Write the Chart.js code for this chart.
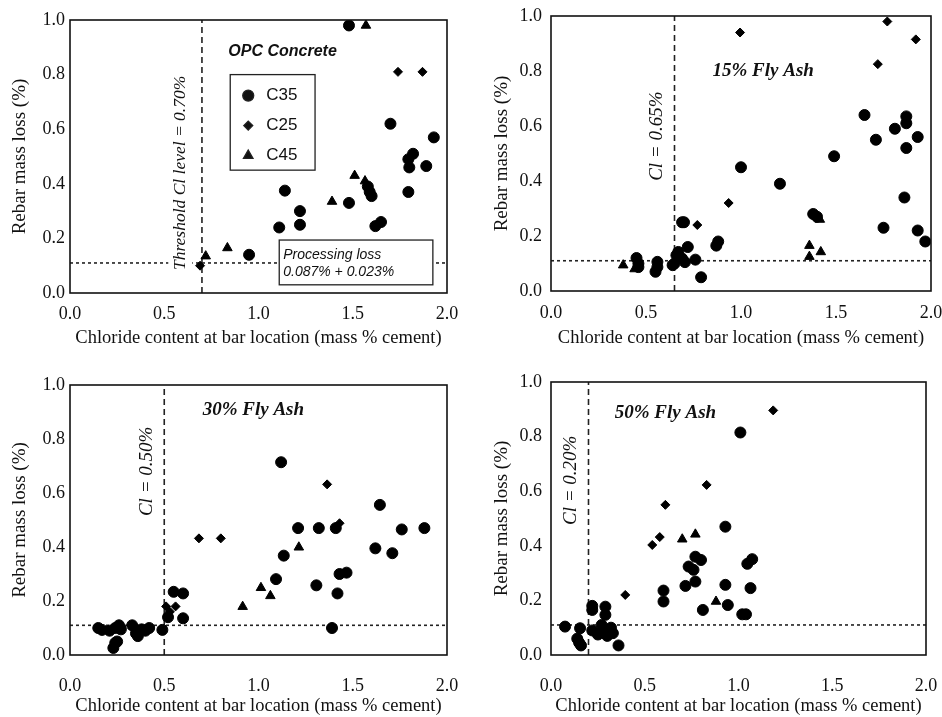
<!DOCTYPE html>
<html>
<head>
<meta charset="utf-8">
<script src="https://cdn.jsdelivr.net/npm/chart.js@4.4.1/dist/chart.umd.min.js"></script>
<style>
  body { margin: 0; background: #fff; }
  #wrap { position: relative; width: 942px; height: 717px; background: #fff; overflow: hidden; }
  canvas { position: absolute; }
</style>
</head>
<body>
<div id="wrap">
  <canvas id="p1" width="470" height="350" style="left:0;top:0"></canvas>
  <canvas id="p2" width="472" height="350" style="left:470px;top:0"></canvas>
  <canvas id="p3" width="470" height="367" style="left:0;top:350px"></canvas>
  <canvas id="p4" width="472" height="367" style="left:470px;top:350px"></canvas>
</div>
<script>
// ---- data: [chloride %, mass loss %] ----
const opcC35 = [[1.48,0.98],[1.70,0.62],[1.93,0.57],[1.82,0.51],[1.795,0.49],[1.80,0.46],[1.89,0.465],
  [1.795,0.37],[1.14,0.375],[1.48,0.33],[1.22,0.30],[1.22,0.25],[1.11,0.24],[1.62,0.245],[1.65,0.26],
  [1.58,0.39],[1.59,0.37],[1.60,0.355],[0.95,0.14]];
const opcC25 = [[1.74,0.81],[1.87,0.81],[0.69,0.10]];
const opcC45 = [[1.57,0.98],[1.51,0.43],[1.565,0.41],[1.39,0.335],[0.835,0.165],[0.72,0.135]];

const fa15C35 = [[1.00,0.45],[1.205,0.39],[1.49,0.49],[1.65,0.64],[1.71,0.55],[1.81,0.59],[1.87,0.635],
  [1.87,0.61],[1.93,0.56],[1.87,0.52],[1.86,0.34],[1.75,0.23],[1.93,0.22],[1.97,0.18],[1.38,0.28],
  [1.40,0.27],[0.88,0.18],[0.87,0.165],[0.79,0.05],[0.69,0.25],[0.70,0.25],[0.45,0.12],[0.46,0.10],
  [0.46,0.087],[0.56,0.106],[0.56,0.087],[0.55,0.07],[0.64,0.094],[0.66,0.13],[0.69,0.118],[0.72,0.16],
  [0.76,0.114],[0.67,0.142],[0.705,0.105],[0.65,0.10]];
const fa15C25 = [[0.995,0.94],[1.77,0.98],[1.92,0.915],[1.72,0.825],[0.935,0.32],[0.77,0.24]];
const fa15C45 = [[1.36,0.165],[1.36,0.125],[1.42,0.142],[1.415,0.26],[0.38,0.094],[0.44,0.08]];

const fa30C35 = [[1.12,0.714],[1.644,0.556],[1.21,0.47],[1.32,0.47],[1.41,0.47],[1.76,0.465],[1.88,0.47],
  [1.62,0.395],[1.71,0.377],[1.134,0.368],[1.093,0.281],[1.307,0.258],[1.419,0.228],[1.43,0.30],
  [1.467,0.305],[1.39,0.10],[0.60,0.136],[0.52,0.14],[0.55,0.234],[0.60,0.228],
  [0.15,0.10],[0.17,0.093],[0.21,0.09],[0.24,0.10],[0.26,0.11],[0.27,0.095],[0.23,0.026],[0.24,0.045],
  [0.25,0.05],[0.33,0.11],[0.35,0.08],[0.36,0.07],[0.38,0.095],[0.40,0.09],[0.42,0.10],[0.49,0.093]];
const fa30C25 = [[0.684,0.432],[0.80,0.432],[1.364,0.632],[1.43,0.488],[0.51,0.18],[0.56,0.18],[0.53,0.16]];
const fa30C45 = [[0.916,0.179],[1.013,0.249],[1.063,0.219],[1.214,0.399]];

const fa50C35 = [[1.01,0.815],[0.93,0.47],[0.77,0.36],[0.80,0.348],[0.734,0.324],[0.76,0.312],[0.77,0.269],
  [0.717,0.253],[1.047,0.334],[1.073,0.351],[0.93,0.257],[1.064,0.245],[0.60,0.236],[0.60,0.196],
  [0.81,0.165],[0.943,0.183],[1.02,0.149],[1.04,0.149],
  [0.075,0.104],[0.155,0.098],[0.14,0.06],[0.15,0.045],[0.16,0.035],[0.22,0.18],[0.22,0.165],
  [0.29,0.177],[0.29,0.147],[0.22,0.09],[0.25,0.075],[0.28,0.085],[0.30,0.07],[0.32,0.10],[0.27,0.11],
  [0.33,0.08],[0.36,0.035]];
const fa50C25 = [[1.185,0.896],[0.83,0.623],[0.61,0.55],[0.54,0.403],[0.58,0.432],[0.396,0.22]];
const fa50C45 = [[0.70,0.424],[0.77,0.442],[0.88,0.196]];

const mixNames = ["C35", "C25", "C45"];
const thresholds = [0.70, 0.65, 0.50, 0.20];
const processingLoss = 0.11;
const panelTitles = ["OPC Concrete", "15% Fly Ash", "30% Fly Ash", "50% Fly Ash"];
const thresholdLabels = ["Threshold Cl level = 0.70%", "Cl = 0.65%", "Cl = 0.50%", "Cl = 0.20%"];
const processingText = ["Processing loss", "0.087% + 0.023%"];
const xTitle = "Chloride content at bar location (mass % cement)";
const yTitle = "Rebar mass loss (%)";

const SERIF = "'Liberation Serif', 'Times New Roman', serif";
const SANS = "'Liberation Sans', Arial, sans-serif";
const styles = ["circle", "rectRot", "triangle"];
const radii = [5.5, 4.5, 5.5];

function pts(arr) { return arr.map(p => ({ x: p[0], y: p[1] })); }

function notesPlugin(notes) {
  return {
    id: "notes",
    afterDatasetsDraw(chart) {
      const { ctx, chartArea: a, scales: { x, y } } = chart;
      ctx.save();
      ctx.fillStyle = "#111";
      notes.forEach(n => {
        const px = x.getPixelForValue(n.x), py = y.getPixelForValue(n.y);
        if (n.type === "text") {
          ctx.font = n.font;
          ctx.textAlign = "left";
          ctx.textBaseline = "middle";
          ctx.fillText(n.text, px, py);
        } else if (n.type === "vtext") {
          ctx.font = n.font;
          ctx.translate(px, py);
          ctx.rotate(-Math.PI / 2);
          if (n.bg) {
            const w = ctx.measureText(n.text).width;
            ctx.fillStyle = "#fff";
            ctx.fillRect(-w / 2 - 2, -12, w + 4, 24);
            ctx.fillStyle = "#111";
          }
          ctx.textAlign = "center";
          ctx.textBaseline = "middle";
          ctx.fillText(n.text, 0, 0);
          ctx.setTransform(1, 0, 0, 1, 0, 0);
        } else if (n.type === "box") {
          const px2 = x.getPixelForValue(n.x2), py2 = y.getPixelForValue(n.y2);
          ctx.fillStyle = "#fff";
          ctx.fillRect(px, py, px2 - px, py2 - py);
          ctx.strokeStyle = "#222";
          ctx.lineWidth = 1.3;
          ctx.strokeRect(px, py, px2 - px, py2 - py);
          ctx.fillStyle = "#111";
          ctx.font = n.font;
          ctx.textAlign = "left";
          ctx.textBaseline = "middle";
          n.lines.forEach((t, i) => ctx.fillText(t, px + 4, py + 15 + i * 17));
        } else if (n.type === "legend") {
          const px2 = x.getPixelForValue(n.x2), py2 = y.getPixelForValue(n.y2);
          ctx.strokeStyle = "#222";
          ctx.lineWidth = 1.3;
          ctx.strokeRect(px, py, px2 - px, py2 - py);
          ctx.font = n.font;
          ctx.textAlign = "left";
          ctx.textBaseline = "middle";
          mixNames.forEach((m, i) => {
            const cy = py + 21 + i * 30;
            Chart.helpers.drawPoint(ctx, { pointStyle: styles[i], radius: radii[i], rotation: 0, borderWidth: 1 }, px + 18, cy);
            ctx.fillStyle = "#111";
            ctx.fillText(m, px + 36, cy);
          });
        }
      });
      ctx.strokeStyle = "#111";
      ctx.lineWidth = 1.6;
      ctx.strokeRect(a.left, a.top, a.right - a.left, a.bottom - a.top);
      ctx.restore();
    }
  };
}

function makePanel(id, series, thr, geo, notes) {
  const datasets = series.map((s, i) => ({
    type: "scatter",
    label: mixNames[i],
    data: pts(s),
    pointStyle: styles[i],
    pointRadius: radii[i],
    pointBackgroundColor: "#000",
    pointBorderColor: "#000",
    pointBorderWidth: 1,
    order: 1
  }));
  datasets.push({
    type: "line", label: "threshold",
    data: [{ x: thr, y: 0 }, { x: thr, y: 1 }],
    borderColor: "#222", borderWidth: 1.6, borderDash: [6, 4],
    pointRadius: 0, order: 2
  });
  datasets.push({
    type: "line", label: "processing loss",
    data: [{ x: 0, y: processingLoss }, { x: 2, y: processingLoss }],
    borderColor: "#222", borderWidth: 1.6, borderDash: [3, 3],
    pointRadius: 0, order: 2
  });

  new Chart(document.getElementById(id), {
    data: { datasets },
    options: {
      responsive: false,
      animation: false,
      devicePixelRatio: 1,
      layout: { padding: geo.pad },
      plugins: { legend: { display: false }, tooltip: { enabled: false } },
      scales: {
        x: {
          type: "linear", min: 0, max: 2,
          afterFit: s => { s.height = geo.xh; s.paddingLeft = 0; s.paddingRight = 0; },
          grid: { display: false, drawTicks: false },
          border: { display: false },
          ticks: { stepSize: 0.5, padding: geo.xtp, color: "#111", font: { family: SERIF, size: 18 },
            callback: v => v.toFixed(1) },
          title: { display: true, text: xTitle, color: "#111", font: { family: SERIF, size: 18.5 },
            padding: { top: 0, bottom: geo.xtb } }
        },
        y: {
          type: "linear", min: 0, max: 1,
          afterFit: s => { s.width = geo.yw; s.paddingTop = 0; s.paddingBottom = 0; },
          grid: { display: false, drawTicks: false },
          border: { display: false },
          ticks: { stepSize: 0.2, padding: geo.ytp, color: "#111", font: { family: SERIF, size: 18 },
            callback: v => v.toFixed(1) },
          title: { display: true, text: yTitle, color: "#111", font: { family: SERIF, size: 19 },
            padding: { top: geo.ytt, bottom: 0 } }
        }
      }
    },
    plugins: [notesPlugin(notes)]
  });
}

const titleFont = "italic bold 19px " + SERIF;
const cfont = "italic 19px " + SERIF;

makePanel("p1", [opcC35, opcC25, opcC45], thresholds[0],
  { pad: { left: 0, top: 20, right: 23, bottom: 0 }, xh: 57, yw: 70, xtp: 10, xtb: 1, ytp: 5, ytt: 9 },
  [
    { type: "text", text: panelTitles[0], x: 0.84, y: 0.885, font: "italic bold 16px " + SANS },
    { type: "vtext", text: thresholdLabels[0], x: 0.585, y: 0.44, font: "italic 17.5px " + SERIF, bg: true },
    { type: "legend", x: 0.85, y: 0.80, x2: 1.30, y2: 0.45, font: "17px " + SANS },
    { type: "box", x: 1.11, y: 0.194, x2: 1.925, y2: 0.03, lines: processingText, font: "italic 14px " + SANS }
  ]);

makePanel("p2", [fa15C35, fa15C25, fa15C45], thresholds[1],
  { pad: { left: 0, top: 16, right: 11, bottom: 0 }, xh: 59, yw: 81, xtp: 11, xtb: 1, ytp: 9, ytt: 21 },
  [
    { type: "text", text: panelTitles[1], x: 0.85, y: 0.80, font: titleFont },
    { type: "vtext", text: thresholdLabels[1], x: 0.558, y: 0.563, font: cfont }
  ]);

makePanel("p3", [fa30C35, fa30C25, fa30C45], thresholds[2],
  { pad: { left: 0, top: 35, right: 23, bottom: 0 }, xh: 62, yw: 70, xtp: 20, xtb: 0, ytp: 5, ytt: 9 },
  [
    { type: "text", text: panelTitles[2], x: 0.704, y: 0.907, font: titleFont },
    { type: "vtext", text: thresholdLabels[2], x: 0.41, y: 0.68, font: cfont }
  ]);

makePanel("p4", [fa50C35, fa50C25, fa50C45], thresholds[3],
  { pad: { left: 0, top: 32, right: 16, bottom: 0 }, xh: 62, yw: 81, xtp: 20, xtb: 0, ytp: 9, ytt: 21 },
  [
    { type: "text", text: panelTitles[3], x: 0.34, y: 0.887, font: titleFont },
    { type: "vtext", text: thresholdLabels[3], x: 0.107, y: 0.64, font: cfont }
  ]);
</script>
</body>
</html>
